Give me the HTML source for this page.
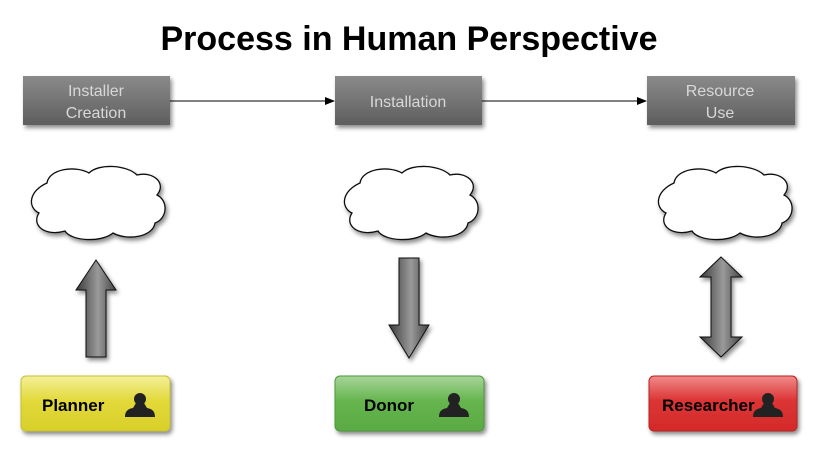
<!DOCTYPE html>
<html><head><style>
body{margin:0;background:#fff;width:818px;height:452px;overflow:hidden}
svg{display:block}
</style></head><body>
<svg width="818" height="452" viewBox="0 0 818 452" xmlns="http://www.w3.org/2000/svg" font-family="Liberation Sans, sans-serif">
<defs>
<linearGradient id="gb" x1="0" y1="0" x2="0" y2="1"><stop offset="0" stop-color="#8a8a8a"/><stop offset="1" stop-color="#5e5e5e"/></linearGradient>
<linearGradient id="ga" x1="0" y1="0" x2="1" y2="0"><stop offset="0" stop-color="#3a3a3a"/><stop offset="0.55" stop-color="#9a9a9a"/><stop offset="1" stop-color="#444"/></linearGradient>
<linearGradient id="gy" x1="0" y1="0" x2="0" y2="1"><stop offset="0" stop-color="#f4ef9a"/><stop offset="0.45" stop-color="#e2d93a"/><stop offset="1" stop-color="#d8cf2a"/></linearGradient>
<linearGradient id="gg" x1="0" y1="0" x2="0" y2="1"><stop offset="0" stop-color="#a8d49a"/><stop offset="0.45" stop-color="#66b54e"/><stop offset="1" stop-color="#5aaa44"/></linearGradient>
<linearGradient id="gr" x1="0" y1="0" x2="0" y2="1"><stop offset="0" stop-color="#f08a8a"/><stop offset="0.45" stop-color="#dc3434"/><stop offset="1" stop-color="#d42a2a"/></linearGradient>
<filter id="sh" x="-20%" y="-20%" width="140%" height="140%"><feDropShadow dx="2" dy="3" stdDeviation="2" flood-color="#000" flood-opacity="0.45"/></filter>
<marker id="ar" markerWidth="10" markerHeight="8" refX="9" refY="4" orient="auto" markerUnits="userSpaceOnUse"><path d="M0,0 L10,4 L0,8 z" fill="#000"/></marker>
<path id="cloud" d="M20,22 C22,8 48,4 62,12 C72,2 100,4 110,14 C126,10 140,22 130,34 C142,40 140,58 128,62 C126,76 100,80 86,72 C74,82 44,80 38,70 C18,76 4,64 12,52 C0,46 2,30 20,22 Z" fill="#fff" stroke="#111" stroke-width="1.3"/>
<path id="up" d="M20,0 L40,30 L30,30 L30,97 L10,97 L10,30 L0,30 Z" fill="url(#ga)" stroke="#111" stroke-width="1"/>
<path id="down" d="M10,0 L30,0 L30,67 L40,67 L20,100 L0,67 L10,67 Z" fill="url(#ga)" stroke="#111" stroke-width="1"/>
<path id="both" d="M21,0 L42,20 L31,20 L31,80 L42,80 L21,100 L0,80 L11,80 L11,20 L0,20 Z" fill="url(#ga)" stroke="#111" stroke-width="1"/>
<g id="person"><circle cx="14" cy="9" r="6" fill="#222"/><path d="M10,13 L18,13 L21,18 C27,19 29,22 29,27 L-1,27 C-1,22 1,19 7,18 Z" fill="#222"/></g>
</defs>
<text x="409" y="50" text-anchor="middle" font-size="34" font-weight="bold" fill="#000">Process in Human Perspective</text>

<g filter="url(#sh)">
<rect x="23" y="76" width="147" height="49" fill="url(#gb)"/>
<rect x="335" y="76" width="147" height="49" fill="url(#gb)"/>
<rect x="647" y="76" width="148" height="49" fill="url(#gb)"/>
</g>
<g font-size="16" fill="#d8d8d8" text-anchor="middle">
<text x="96" y="96">Installer</text><text x="96" y="118">Creation</text>
<text x="408" y="107">Installation</text>
<text x="720" y="96">Resource</text><text x="720" y="118">Use</text>
</g>
<line x1="170" y1="101" x2="334" y2="101" stroke="#000" stroke-width="1" marker-end="url(#ar)"/>
<line x1="482" y1="101" x2="646" y2="101" stroke="#000" stroke-width="1" marker-end="url(#ar)"/>

<g filter="url(#sh)">
<use href="#cloud" transform="translate(27,161)"/>
<use href="#cloud" transform="translate(340,161)"/>
<use href="#cloud" transform="translate(654,161)"/>
<use href="#up" transform="translate(76,260)"/>
<use href="#down" transform="translate(389,258)"/>
<use href="#both" transform="translate(700,257)"/>
</g>

<g filter="url(#sh)">
<rect x="21" y="376" width="149" height="55" rx="5" fill="url(#gy)" stroke="#c8c030"/>
<rect x="335" y="376" width="149" height="55" rx="5" fill="url(#gg)" stroke="#4e9a3a"/>
<rect x="649" y="376" width="148" height="55" rx="5" fill="url(#gr)" stroke="#b82020"/>
</g>
<g font-size="17" font-weight="bold" fill="#000">
<text x="42" y="411">Planner</text>
<text x="364" y="411">Donor</text>
<text x="662" y="411">Researcher</text>
</g>
<use href="#person" transform="translate(126,390)"/>
<use href="#person" transform="translate(440,390)"/>
<use href="#person" transform="translate(754,390)"/>
</svg>
</body></html>
